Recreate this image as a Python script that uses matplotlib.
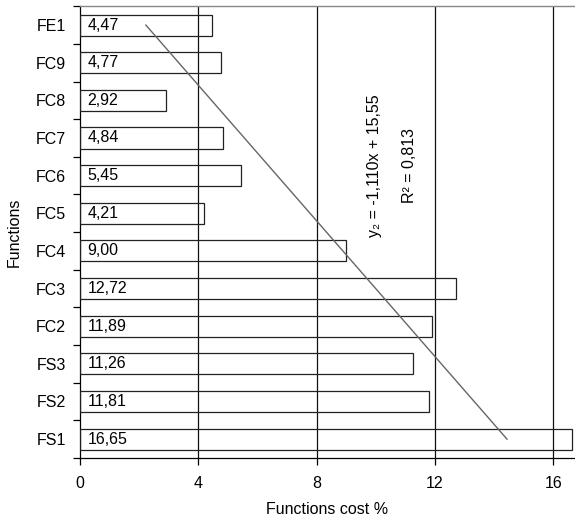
import matplotlib
matplotlib.use("Agg")
import matplotlib.pyplot as plt
import numpy as np

plt.rcParams['font.family'] = ['Liberation Sans', 'DejaVu Sans']

functions = ["FS1", "FS2", "FS3", "FC2", "FC3", "FC4", "FC5", "FC6", "FC7", "FC8", "FC9", "FE1"]
cost = [16.65, 11.81, 11.26, 11.89, 12.72, 9.00, 4.21, 5.45, 4.84, 2.92, 4.77, 4.47]
slope, intercept = -1.110, 15.55
r2 = 0.813
xticks = [0, 4, 8, 12, 16]

FS = 11.5

fig = plt.figure(figsize=(5.75, 5.21), dpi=100)
ax = fig.add_axes([0.139, 0.121, 0.859, 0.867])

pos = np.arange(len(functions))
ax.barh(pos, cost, height=0.56, facecolor="none", edgecolor="#222222", linewidth=0.9, zorder=3)

for p, v in zip(pos, cost):
    ax.text(0.25, p, f"{v:.2f}".replace(".", ","), va="center", ha="left", fontsize=FS, zorder=4)

# linear trend over category index (FS1 = 1)
idx = pos + 1
trend = slope * idx + intercept
ax.plot(trend, pos, color="#666666", linewidth=1.0, zorder=4)

ax.text(9.97, 7.26, f"y\u2082 = {slope:.3f}x + {intercept:.2f}".replace(".", ","),
        rotation=90, ha="center", va="center", fontsize=FS)
ax.text(11.15, 7.26, f"R\u00b2 = {r2:.3f}".replace(".", ","),
        rotation=90, ha="center", va="center", fontsize=FS)

ax.set_xlim(0, 16.7)
ax.set_ylim(-0.5, 11.5)

for x in xticks[1:]:
    ax.axvline(x, color="#111111", linewidth=0.9, zorder=2)

ax.set_xticks(xticks)
ax.set_xticklabels([str(t) for t in xticks], fontsize=FS)
ax.set_yticks(pos)
ax.set_yticklabels(functions, fontsize=FS)
ax.set_yticks(np.arange(-0.5, len(functions), 1.0), minor=True)
ax.tick_params(axis="y", which="major", length=0, pad=10)
ax.tick_params(axis="y", which="minor", length=5, width=0.9, direction="out")
ax.tick_params(axis="x", length=5, width=0.9, direction="out", pad=8)

ax.spines["right"].set_visible(False)
ax.spines["top"].set_color("#888888")
ax.spines["top"].set_linewidth(1.0)
ax.spines["left"].set_linewidth(0.9)
ax.spines["bottom"].set_linewidth(0.9)

ax.set_xlabel("Functions cost %", fontsize=FS, labelpad=8)
ax.set_ylabel("Functions", fontsize=FS, labelpad=10)

fig.savefig("out.png", dpi=100)
